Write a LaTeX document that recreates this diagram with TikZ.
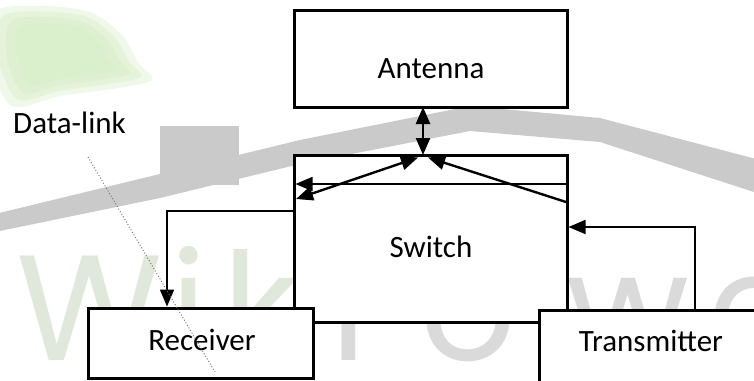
\documentclass[tikz,border=0pt]{standalone}
\usepackage{fontspec}
\setmainfont{Carlito}
\newfontfamily\wmfont{Poppins}
\usetikzlibrary{arrows.meta}
\definecolor{roofgrey}{HTML}{CACACA}
\definecolor{wmgreen}{HTML}{E0E8DC}
\definecolor{wmgrey}{HTML}{DADADA}
\definecolor{leaf}{HTML}{D2EBC0}
\definecolor{dotgrey}{HTML}{707070}

\begin{document}
\begin{tikzpicture}[x=1pt,y=-1pt,
  box/.style={draw, fill=white, line width=3pt, rectangle, inner sep=0pt, outer sep=0pt},
  lbl/.style={font=\fontsize{31}{37}\selectfont, inner sep=0pt, anchor=base},
  wm/.style={font=\wmfont\fontsize{150}{150}\selectfont, inner sep=0pt, anchor=base west},
  link/.style={line width=2.4pt},
  conn/.style={line width=1.8pt},
  oneway/.style={-{Triangle[length=17pt 0,width=14pt 0]}},
  twoway/.style={{Triangle[length=17pt 0,width=14pt 0]}-{Triangle[length=17pt 0,width=14pt 0]}}
]
\useasboundingbox (0,0) rectangle (754,380);
\clip (0,0) rectangle (754,380);

% background mark: leaves, roof and lettering
\foreach \s in {1.00,0.88,0.76,0.62}{
  \fill[leaf, opacity=0.35, shift={(60,52)}, scale=\s]
    plot[smooth cycle] coordinates {(-66,-40) (-20,-46) (30,-40) (62,-17) (78,10) (92,28) (58,36) (0,44) (-48,54) (-70,8)};
}
\fill[roofgrey] (160,126) rectangle (239,185);
\fill[roofgrey] (-5,214) -- (300,140) -- (470,106) -- (600,118) -- (760,160)
  -- (760,194) -- (600,142) -- (470,131) -- (300,164) -- (160,198) -- (-5,232) -- cycle;
\node[wm, text=wmgreen] (wmW) at (16,360) {W};
\node[wm, text=wmgreen] (wmI) at (170,360) {i};
\node[wm, text=wmgreen] (wmK) at (222,360) {k};
\node[wm, text=wmgrey] (wmP) at (330,360) {P};
\node[wm, text=wmgrey] (wmO) at (420,360) {o};
\node[wm, text=wmgrey] (wmw) at (566,360) {w};
\node[wm, text=wmgrey] (wmE) at (708,360) {e};

% blocks
\node[box, minimum width=273pt, minimum height=97pt] (antenna) at (431,58.5) {};
\node[box, minimum width=273pt, minimum height=167pt] (switch) at (430.5,238.5) {};
\node[box, minimum width=225pt, minimum height=70pt] (receiver) at (200.5,343) {};
\node[box, minimum width=240pt, minimum height=90pt] (transmitter) at (659,355) {};

\node[lbl] (antennaText) at (431,78) {Antenna};
\node[lbl] (switchText) at (431,257) {Switch};
\node[lbl] (receiverText) at (202,350) {Receiver};
\node[lbl] (transmitterText) at (651,351) {Transmitter};
\node[lbl] (datalink) at (69.5,133) {Data-link};

% connections
\coordinate (apex) at (423,155);
\coordinate (apexL) at (418,157.5);
\coordinate (apexR) at (428,157.5);
\coordinate (leftIn) at (296,199);
\coordinate (rightOut) at (566,202);
\draw[link, twoway] (antenna.south -| apex) -- (apex);
\draw[link, twoway] (leftIn) -- (apexL);
\draw[link, oneway] (rightOut) -- (apexR);
\draw[conn, oneway, shorten >=1.5pt] (switch.east |- 0,184) -- (switch.west |- 0,184);
\draw[conn, oneway, shorten >=1.5pt] (switch.west |- 0,211) -| (receiver.north -| 167,0);
\draw[conn, oneway, shorten >=1.5pt] (transmitter.north -| 695,0) |- (switch.east |- 0,227);

% data-link trace
\coordinate (dl1) at (88,157);
\coordinate (dl2) at (215,372);
\draw[dotgrey, line width=0.9pt, dash pattern=on 1pt off 2pt] (dl1) -- (dl2);
\end{tikzpicture}
\end{document}
